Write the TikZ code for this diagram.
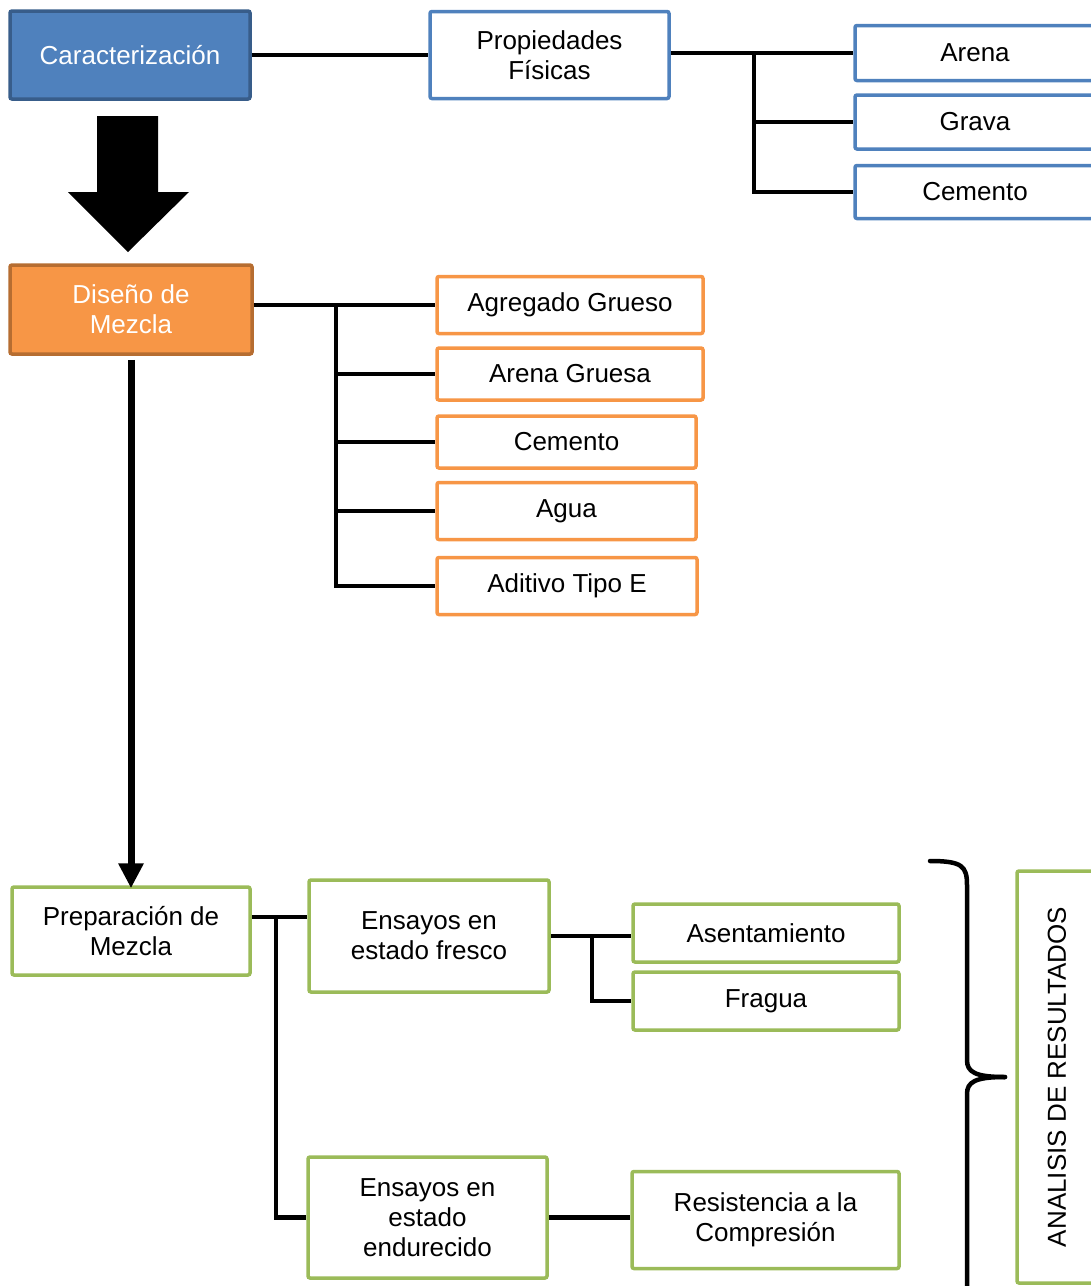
\documentclass[tikz,border=0pt]{standalone}
\usepackage{fontspec}
\setmainfont{Liberation Sans}
\usetikzlibrary{arrows.meta}
\definecolor{azul}{HTML}{4F81BD}
\definecolor{azulosc}{HTML}{385D8A}
\definecolor{naranja}{HTML}{F79646}
\definecolor{naranjaosc}{HTML}{B66D31}
\definecolor{verde}{HTML}{9BBB59}
\begin{document}
\begin{tikzpicture}[x=1pt, y=-1pt,
		font=\fontsize{26}{30}\selectfont,
		caja/.style={draw, line width=3.5, rounded corners=2, fill=white, align=center, inner sep=0},
		azulcaja/.style={caja, draw=azul},
		narcaja/.style={caja, draw=naranja},
		vercaja/.style={caja, draw=verde},
		linea/.style={line width=4.5}]
		\useasboundingbox (0, 0) rectangle (1091, 1286);
		\clip (0, 0) rectangle (1091, 1286);
		% caracterizacion
		\node[caja, draw=azulosc, fill=azul, text=white, minimum width=240, minimum height=88] (car) at (130, 55) {Caracterización};
		\node[azulcaja, minimum width=239, minimum height=87] (prop) at (549.5, 55) {Propiedades\\Físicas};
		\node[azulcaja, minimum width=240, minimum height=55] (are1) at (975, 53) {Arena};
		\node[azulcaja, minimum width=240, minimum height=54] (gra) at (975, 122) {Grava};
		\node[azulcaja, minimum width=240, minimum height=53] (cem1) at (975, 192) {Cemento};
		\draw[linea] (car.east) -- (prop.west);
		\draw[linea] (prop.east |- are1.west) -- (are1.west);
		\coordinate (pj) at (754, 53);
		\draw[linea] (pj) |- (gra.west);
		\draw[linea] (pj) |- (cem1.west);
		% flecha grande
		\fill (97, 116) -- (158, 116) -- (158, 192) -- (189, 192) -- (128, 252) -- (68, 192) -- (97, 192) -- cycle;
		% diseno de mezcla
		\node[caja, draw=naranjaosc, fill=naranja, text=white, minimum width=242, minimum height=89] (dis) at (131, 309.5) {Diseño de\\Mezcla};
		\node[narcaja, minimum width=266, minimum height=57] (agr) at (570, 305) {Agregado Grueso};
		\node[narcaja, minimum width=266, minimum height=52] (are2) at (570, 374) {Arena Gruesa};
		\node[narcaja, minimum width=259, minimum height=52] (cem2) at (566.5, 442) {Cemento};
		\node[narcaja, minimum width=259, minimum height=57] (agua) at (566.5, 511) {Agua};
		\node[narcaja, minimum width=260, minimum height=57] (adi) at (567, 586) {Aditivo Tipo E};
		\draw[linea] (dis.east |- agr.west) -- (agr.west);
		\coordinate (dj) at (336, 305);
		\draw[linea] (dj) |- (are2.west);
		\draw[linea] (dj) |- (cem2.west);
		\draw[linea] (dj) |- (agua.west);
		\draw[linea] (dj) |- (adi.west);
		% preparacion
		\node[vercaja, minimum width=238, minimum height=88] (prep) at (131, 931) {Preparación de\\Mezcla};
		\draw[line width=7, -{Triangle[width=24, length=25]}] ([yshift=-4]dis.south) -- ([yshift=-3]prep.north);
		\node[vercaja, minimum width=240, minimum height=112] (fres) at (429, 936) {Ensayos en\\estado fresco};
		\node[vercaja, minimum width=266, minimum height=58] (ase) at (766, 933) {Asentamiento};
		\node[vercaja, minimum width=266, minimum height=58] (fra) at (766, 1001) {Fragua};
		\node[vercaja, minimum width=239, minimum height=121] (endu) at (427.5, 1217.5) {Ensayos en\\estado\\endurecido};
		\node[vercaja, minimum width=267, minimum height=97] (res) at (765.5, 1220) {Resistencia a la\\Compresión};
		\coordinate (pr) at (276, 917);
		\draw[linea] (prep.east |- pr) -- (fres.west |- pr);
		\draw[linea] (pr) |- (endu.west);
		\draw[linea] (fres.east) -- (fres.east -| ase.west);
		\coordinate (fj) at (592, 936);
		\draw[linea] (fj) |- (fra.west);
		\draw[linea] (endu.east) -- (endu.east -| res.west);
		% analisis
		\draw[linea, line cap=round] (930, 861) .. controls (962, 861) and (967, 866) .. (967, 885) -- (967, 1060) .. controls (967, 1072) and (975, 1077) .. (1005, 1077);
		\draw[linea, line cap=round] (1005, 1077) .. controls (975, 1077) and (967, 1082) .. (967, 1094) -- (967, 1300);
		\node[vercaja, rotate=90, minimum width=412, minimum height=80] (ana) at (1057, 1077) {ANALISIS DE RESULTADOS};
	\end{tikzpicture}
\end{document}
